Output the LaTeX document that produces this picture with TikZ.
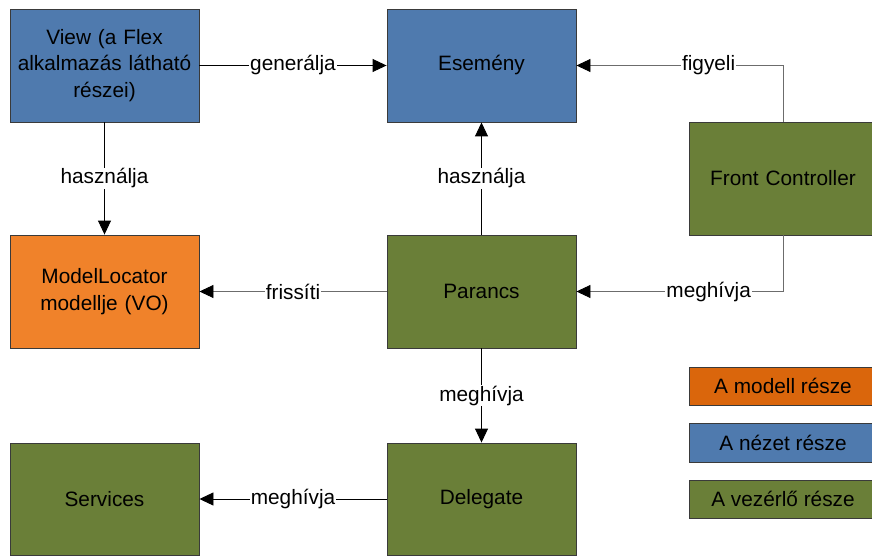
\documentclass[tikz,border=0pt]{standalone}
\usepackage{fontspec}
\setmainfont{Liberation Sans}
\usetikzlibrary{arrows.meta}
\definecolor{viewblue}{HTML}{4F7AAE}
\definecolor{ctrlgreen}{HTML}{6A7F38}
\definecolor{modelorange}{HTML}{F0822A}
\definecolor{legendorange}{HTML}{DA660C}
\definecolor{edgegray}{HTML}{3A3A3A}
\begin{document}
\begin{tikzpicture}[x=1pt,y=-1pt,
  every node/.style={font=\fontsize{20.8}{26.5}\selectfont},
  block/.style={draw=edgegray, line width=0.9pt, minimum width=189pt, minimum height=113pt,
    inner sep=0pt, align=center, text width=185pt},
  legendbox/.style={draw=edgegray, line width=0.9pt, minimum width=188pt, minimum height=38pt,
    inner sep=0pt, align=center},
  conn/.style={line width=0.9pt, -{Triangle[length=14pt,width=13pt,color=black]}},
  lbl/.style={fill=white, inner sep=1pt}
]
\clip (0,0) rectangle (872,556);
\fill[white] (0,0) rectangle (872,556);

% main blocks
\node[block, fill=viewblue] (view) at (104.5,65.5) {View (a Flex\\alkalmazás látható\\részei)};
\node[block, fill=viewblue] (event) at (481.5,65.5) {Esemény};
\node[block, fill=ctrlgreen, minimum width=188pt] (fc) at (783,178.5) {Front Controller};
\node[block, fill=modelorange] (model) at (104.5,291.5) {ModelLocator\\modellje (VO)};
\node[block, fill=ctrlgreen] (cmd) at (481.5,291.5) {Parancs};
\node[block, fill=ctrlgreen, minimum height=112pt] (svc) at (104.5,499) {Services};
\node[block, fill=ctrlgreen, minimum height=112pt] (dlg) at (481.5,499) {Delegate};

% legend
\node[legendbox, fill=legendorange] (lgm) at (783,386) {A modell része};
\node[legendbox, fill=viewblue, minimum height=39pt] (lgv) at (783,442.5) {A nézet része};
\node[legendbox, fill=ctrlgreen] (lgc) at (783,499) {A vezérlő része};

% connectors
\draw[conn] (view.east) -- node[lbl]{generálja} (event.west);
\draw[conn] (view.south) -- node[lbl]{használja} (model.north);
\draw[conn] (cmd.north) -- node[lbl]{használja} (event.south);
\draw[conn, draw=gray!85!black] (fc.north) |- node[lbl, pos=0.68]{figyeli} (event.east);
\draw[conn, draw=gray!85!black] (fc.south) |- node[lbl, pos=0.68]{meghívja} (cmd.east);
\draw[conn, draw=gray!85!black] (cmd.west) -- node[lbl]{frissíti} (model.east);
\draw[conn] (cmd.south) -- node[lbl]{meghívja} (dlg.north);
\draw[conn] (dlg.west) -- node[lbl]{meghívja} (svc.east);
\end{tikzpicture}
\end{document}
